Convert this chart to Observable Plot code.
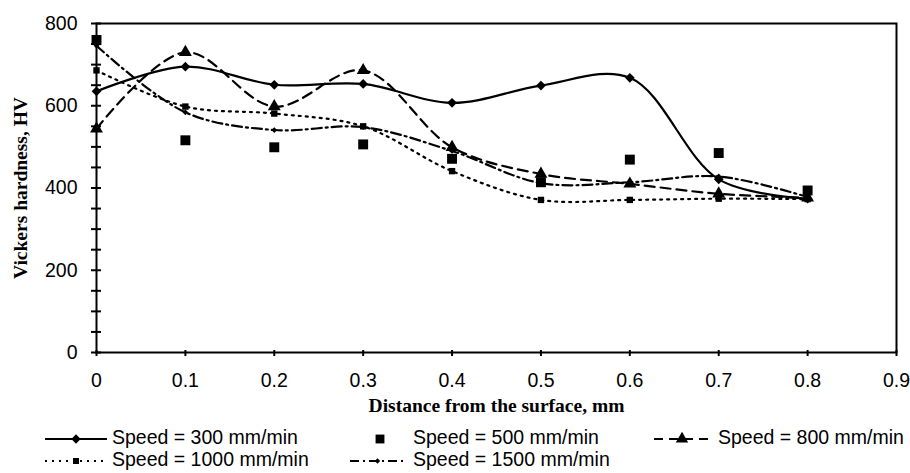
<!DOCTYPE html>
<html><head><meta charset="utf-8">
<script src="https://cdn.jsdelivr.net/npm/d3@7"></script>
<script src="https://cdn.jsdelivr.net/npm/@observablehq/plot@0.6"></script>
<style>
body{margin:0;background:#fff;}
#wrap{position:relative;width:910px;height:473px;font-family:"Liberation Sans",Arial,sans-serif;background:#fff;}
.leg{position:absolute;font-size:19.5px;line-height:22px;white-space:nowrap;color:#000}
.sw{position:absolute;overflow:visible}
</style></head><body><div id="wrap"></div>
<script>
const distance = [0, 0.1, 0.2, 0.3, 0.4, 0.5, 0.6, 0.7, 0.8];
const hv300  = [635, 695, 651, 653, 607, 649, 668, 421, 374];
const hv500  = [760, 516, 499, 506, 471, 414, 469, 485, 394];
const hv800  = [544, 730, 598, 686, 499, 434, 410, 386, 376];
const hv1000 = [686, 598, 581, 550, 441, 371, 371, 374, 373];
const hv1500 = [746, 584, 541, 548, 490, 412, 414, 428, 378];
const seriesNames = ["Speed = 300 mm/min", "Speed = 500 mm/min", "Speed = 800 mm/min", "Speed = 1000 mm/min", "Speed = 1500 mm/min"];
const xTicks = [0, 0.1, 0.2, 0.3, 0.4, 0.5, 0.6, 0.7, 0.8, 0.9];
const yTicks = [0, 200, 400, 600, 800];
const yMinorTicks = [0, 50, 100, 150, 200, 250, 300, 350, 400, 450, 500, 550, 600, 650, 700, 750, 800];
const xTitle = "Distance from the surface, mm";
const yTitle = "Vickers hardness, HV";

const toRows = vals => distance.map((d, i) => ({x: d, y: vals[i]}));
const s300 = toRows(hv300), s500 = toRows(hv500), s800 = toRows(hv800), s1000 = toRows(hv1000), s1500 = toRows(hv1500);
const serif = "'Liberation Serif','Times New Roman',serif";

const chart = Plot.plot({
  width: 910, height: 420,
  marginLeft: 96, marginRight: 14, marginTop: 23, marginBottom: 68,
  x: {domain: [0, 0.9]},
  y: {domain: [0, 800]},
  style: {fontFamily: "'Liberation Sans',Arial,sans-serif", fontSize: "19.5px", color: "black", background: "white", overflow: "visible"},
  marks: [
    Plot.frame({stroke: "black", strokeWidth: 2}),
    Plot.axisY(yMinorTicks, {tickSize: 10, dx: 5, strokeWidth: 2, tickFormat: () => "", label: null}),
    Plot.axisY(yTicks, {tickSize: 0, tickPadding: 19, label: null, fontSize: 19.5}),
    Plot.axisX(xTicks, {tickSize: 6, dy: -2, strokeWidth: 2, tickFormat: () => "", label: null}),
    Plot.axisX(xTicks, {tickSize: 0, tickPadding: 21, label: null, fontSize: 19.5, tickFormat: d => String(d)}),
    Plot.text([xTitle], {frameAnchor: "bottom", dy: 53, lineAnchor: "middle", textAnchor: "middle", fontFamily: serif, fontWeight: "bold", fontSize: 19.5, text: d => d}),
    Plot.text([yTitle], {frameAnchor: "left", dx: -76, rotate: -90, lineAnchor: "middle", textAnchor: "middle", fontFamily: serif, fontWeight: "bold", fontSize: 19.5, text: d => d}),
    Plot.line(s300, {x: "x", y: "y", curve: "catmull-rom", stroke: "black", strokeWidth: 2.2}),
    Plot.line(s800, {x: "x", y: "y", curve: "catmull-rom", stroke: "black", strokeWidth: 2.2, strokeDasharray: "10,6"}),
    Plot.line(s1000, {x: "x", y: "y", curve: "catmull-rom", stroke: "black", strokeWidth: 2.2, strokeDasharray: "2,5"}),
    Plot.line(s1500, {x: "x", y: "y", curve: "catmull-rom", stroke: "black", strokeWidth: 2.2, strokeDasharray: "10,4,2,4"}),
    Plot.dot(s300, {x: "x", y: "y", symbol: "diamond2", r: 4.4, fill: "black", stroke: null}),
    Plot.dot(s500, {x: "x", y: "y", symbol: "square", r: 5.6, fill: "black", stroke: null}),
    Plot.dot(s800, {x: "x", y: "y", symbol: "triangle", r: 4.8, fill: "black", stroke: null}),
    Plot.dot(s1000, {x: "x", y: "y", symbol: "square", r: 3.6, fill: "black", stroke: null}),
    Plot.dot(s1500, {x: "x", y: "y", symbol: "diamond2", r: 2.6, fill: "black", stroke: null})
  ]
});
const wrap = document.getElementById("wrap");
wrap.appendChild(chart);

// legend
const ns = "http://www.w3.org/2000/svg";
function swatch(x0, x1, cy, dash, marker) {
  const svg = document.createElementNS(ns, "svg");
  svg.setAttribute("class", "sw");
  svg.setAttribute("width", x1 - x0 + 10);
  svg.setAttribute("height", 20);
  svg.style.left = (x0 - 5) + "px";
  svg.style.top = (cy - 10) + "px";
  if (dash !== "none") {
    const l = document.createElementNS(ns, "line");
    l.setAttribute("x1", 5); l.setAttribute("x2", x1 - x0 + 5);
    l.setAttribute("y1", 10); l.setAttribute("y2", 10);
    l.setAttribute("stroke", "black"); l.setAttribute("stroke-width", 2);
    if (dash) l.setAttribute("stroke-dasharray", dash);
    svg.appendChild(l);
  }
  const p = document.createElementNS(ns, "path");
  const sym = {diamond2: d3.symbolDiamond2, square: d3.symbolSquare, triangle: d3.symbolTriangle}[marker.symbol];
  p.setAttribute("d", d3.symbol(sym, Math.PI * marker.r * marker.r)());
  p.setAttribute("transform", `translate(${(x1 - x0) / 2 + 5},10)`);
  p.setAttribute("fill", "black");
  svg.appendChild(p);
  wrap.appendChild(svg);
}
function label(text, x, top) {
  const d = document.createElement("div");
  d.className = "leg"; d.textContent = text;
  d.style.left = x + "px"; d.style.top = top + "px";
  wrap.appendChild(d);
}
swatch(45, 107, 439, null, {symbol: "diamond2", r: 4.2});
label(seriesNames[0], 112, 426);
swatch(370, 390, 439, "none", {symbol: "square", r: 5});
label(seriesNames[1], 413, 426);
swatch(654, 710, 439, "9,6", {symbol: "triangle", r: 4.6});
label(seriesNames[2], 718, 426);
swatch(45, 107, 461, "2,5", {symbol: "square", r: 3.4});
label(seriesNames[3], 112, 448);
swatch(350, 405, 461, "9,4,2,4", {symbol: "diamond2", r: 2.4});
label(seriesNames[4], 413, 448);
</script></body></html>
